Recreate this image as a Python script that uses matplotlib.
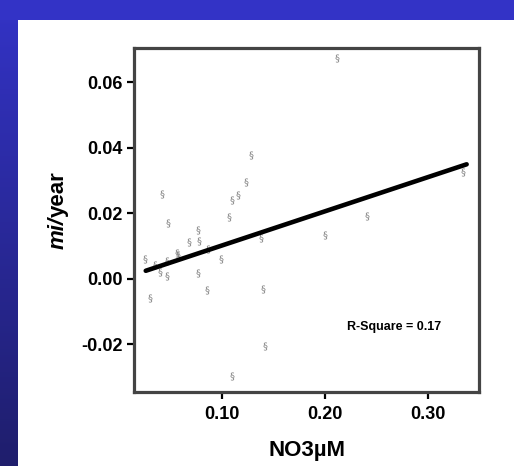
import numpy as np
import matplotlib
matplotlib.use("Agg")
import matplotlib.pyplot as plt

plt.rcParams['font.family'] = ['Liberation Sans', 'DejaVu Sans']

# readings from the scatter
no3 = [0.0414, 0.0473, 0.077, 0.128, 0.123, 0.116, 0.110, 0.107, 0.138, 0.200,
       0.0683, 0.0777, 0.0867, 0.0252, 0.035, 0.0398, 0.0463, 0.0463, 0.056, 0.057,
       0.0987, 0.077, 0.085, 0.140, 0.030, 0.142, 0.110, 0.212, 0.334, 0.241]
mi_year = [0.0260, 0.0170, 0.0150, 0.0379, 0.0297, 0.0256, 0.0241, 0.0190, 0.0124, 0.0134,
           0.0112, 0.0115, 0.0092, 0.0060, 0.0043, 0.0020, 0.0010, 0.0056, 0.0078, 0.0073,
           0.0061, 0.0017, -0.0034, -0.0031, -0.0059, -0.0204, -0.0295, 0.0676, 0.0328, 0.0193]

# fitted line end points
fit_x = [0.026, 0.3375]
fit_y = [0.0025, 0.0350]

x_ticks = [0.10, 0.20, 0.30]
y_ticks = [-0.02, 0.00, 0.02, 0.04, 0.06]

fig = plt.figure(figsize=(5.14, 4.66), dpi=100)

# blue slide background: top band and left gradient band
bg = fig.add_axes([0, 0, 1, 1], zorder=-10)
bg.set_xlim(0, 514)
bg.set_ylim(466, 0)
bg.axis('off')
bg.add_patch(plt.Rectangle((0, 0), 514, 20, color='#3333c6', lw=0))
grad = np.linspace(0, 1, 256).reshape(-1, 1)
cmap = matplotlib.colors.LinearSegmentedColormap.from_list('b', ['#3333c6', '#1f1e6c'])
bg.imshow(grad, cmap=cmap, extent=(0, 18, 466, 0), aspect='auto')

ax = fig.add_axes([134 / 514, 1 - 392 / 466, 345 / 514, 344 / 466])
ax.scatter(no3, mi_year, marker=r'$\S$', s=34, color='#808080', linewidths=0, zorder=2)
ax.plot(fit_x, fit_y, color='black', lw=3.3, solid_capstyle='round', zorder=3)

ax.set_xlim(0.0146, 0.3495)
ax.set_ylim(-0.0345, 0.0705)
ax.set_xticks(x_ticks)
ax.set_xticklabels(['%.2f' % v for v in x_ticks])
ax.set_yticks(y_ticks)
ax.set_yticklabels(['%.2f' % v for v in y_ticks])
ax.tick_params(direction='out', length=5, width=1.6, color='black', labelsize=13, pad=3)
ax.tick_params(axis='x', pad=5)
for lab in ax.get_xticklabels() + ax.get_yticklabels():
    lab.set_fontweight('bold')
for s in ax.spines.values():
    s.set_color('#444444')
    s.set_linewidth(2.3)

ax.set_xlabel('NO3µM', fontsize=16, fontweight='bold', labelpad=12)
# y label: italic "mi/" then upright "year", reading bottom to top
fig.text(58 / 514, 1 - 217 / 466, 'mi/', rotation=90, rotation_mode='anchor',
         ha='right', va='center', fontsize=16, fontweight='bold', fontstyle='italic')
fig.text(58 / 514, 1 - 217 / 466, 'year', rotation=90, rotation_mode='anchor',
         ha='left', va='center', fontsize=16, fontweight='bold')
ax.text(0.755, 0.19, 'R-Square = 0.17', transform=ax.transAxes, ha='center', va='center',
        fontsize=9, fontweight='bold')

fig.savefig('out.png', dpi=100)
